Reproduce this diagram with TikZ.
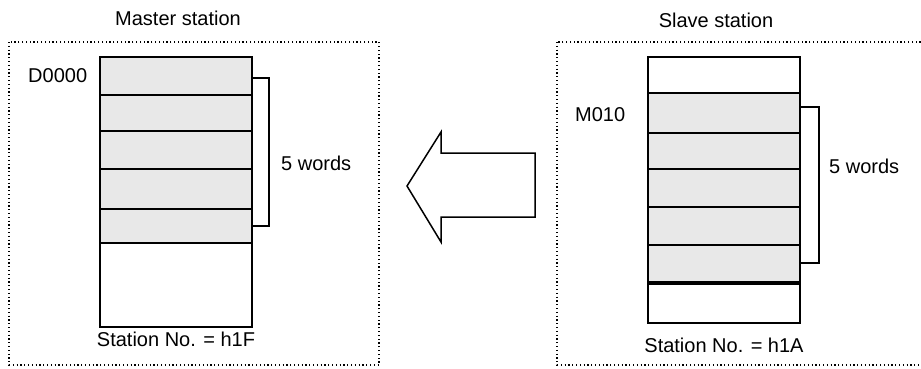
\documentclass[tikz,border=0pt]{standalone}
\usepackage{fontspec}
\setmainfont{Liberation Sans}
\definecolor{cellgrey}{rgb}{0.91,0.91,0.91}
\tikzset{
  cell/.style={draw, line width=1.6pt, minimum width=152pt, inner sep=0pt, anchor=north west},
  used/.style={cell, fill=cellgrey},
  stationframe/.style={line width=1.2pt, dash pattern=on 1.2pt off 2.6pt},
  txt/.style={inner sep=0pt, font=\fontsize{20}{24}\selectfont},
  bracket/.style={line width=1.5pt},
}

\begin{document}
\begin{tikzpicture}[x=1pt, y=-1pt]
  \useasboundingbox (0,0) rectangle (921,368);

  % Frames
  \draw[stationframe] (9,42) rectangle (379,365);
  \draw[stationframe] (557,42) rectangle (925,365);

  % Titles
  \node[txt] (mastertitle) at (178,18) {Master station};
  \node[txt] (slavetitle) at (716,20) {Slave station};

  % Master memory
  \node[used, minimum height=38pt] (d1) at (99,56) {};
  \node[used, minimum height=36pt] (d2) at (99,94) {};
  \node[used, minimum height=38pt] (d3) at (99,130) {};
  \node[used, minimum height=40pt] (d4) at (99,168) {};
  \node[used, minimum height=34pt] (d5) at (99,208) {};
  \node[cell, minimum height=84pt] (d6) at (99,242) {};

  % Slave memory
  \node[cell, minimum height=36pt] (s1) at (647,56) {};
  \node[used, minimum height=40pt] (s2) at (647,92) {};
  \node[used, minimum height=36pt] (s3) at (647,132) {};
  \node[used, minimum height=38pt] (s4) at (647,168) {};
  \node[used, minimum height=38pt] (s5) at (647,206) {};
  \node[used, minimum height=39pt] (s6) at (647,244) {};
  \node[cell, minimum height=39pt] (s7) at (647,283) {};
  \draw[line width=3.5pt] (s7.north west) -- (s7.north east);

  % Labels
  \node[txt, anchor=west] (dlabel) at (28,75.5) {D0000};
  \node[txt, anchor=west] (mlabel) at (575,114.5) {M010};
  \node[txt, anchor=west] (dwords) at (281,163) {5 words};
  \node[txt, anchor=west] (swords) at (829,166) {5 words};
  \node[txt] (dno) at (176,339) {Station No. = h1F};
  \node[txt] (sno) at (724,345) {Station No. = h1A};

  % Brackets
  \draw[bracket] (d1.east |- 0,78) -- (269,78) -- (269,226) -- (d5.east |- 0,226);
  \draw[bracket] (s2.east |- 0,107) -- (819,107) -- (819,263) -- (s6.east |- 0,263);

  % Transfer arrow
  \draw[line width=1.5pt, line join=miter] (407,186) -- (441,132) -- (441,153) -- (535,153)
    -- (535,217) -- (441,217) -- (441,242) -- cycle;
\end{tikzpicture}
\end{document}
